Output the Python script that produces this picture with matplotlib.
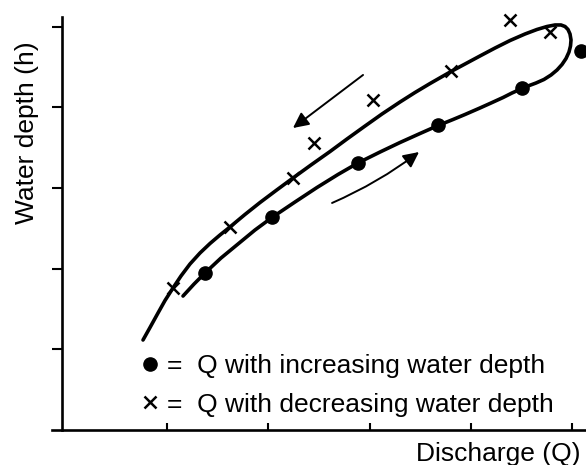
import matplotlib
matplotlib.use("Agg")
import matplotlib.pyplot as plt
from matplotlib.lines import Line2D

plt.rcParams['font.family'] = ['Liberation Sans', 'DejaVu Sans']

# hysteresis loop (discharge Q, water depth h)
# starts at the low end of the falling branch, goes round the top and back down the rising one
loop_q = [0.763, 0.832, 0.911, 0.980, 1.059, 1.138, 1.227, 1.326, 1.425, 1.523,
          1.622, 1.770, 1.919, 2.077, 2.244, 2.422, 2.610, 2.778, 2.956, 3.123,
          3.301, 3.449, 3.598, 3.805, 3.943, 4.091, 4.240, 4.388, 4.536, 4.654,
          4.753, 4.832, 4.891, 4.931, 4.960, 4.980, 4.990, 4.985, 4.970, 4.941,
          4.901, 4.852, 4.793, 4.723, 4.644, 4.565, 4.506, 4.407, 4.319, 4.190,
          4.091, 3.943, 3.825, 3.677, 3.499, 3.301, 3.104, 2.886, 2.689, 2.481,
          2.264, 2.037, 1.869, 1.701, 1.533, 1.375, 1.267, 1.158]
loop_h = [1.112, 1.267, 1.447, 1.602, 1.758, 1.907, 2.056, 2.193, 2.311, 2.416,
          2.516, 2.671, 2.820, 2.969, 3.124, 3.286, 3.453, 3.609, 3.770, 3.919,
          4.068, 4.186, 4.298, 4.447, 4.540, 4.640, 4.739, 4.832, 4.913, 4.969,
          5.006, 5.025, 5.025, 5.006, 4.969, 4.913, 4.839, 4.764, 4.689, 4.609,
          4.534, 4.466, 4.404, 4.348, 4.304, 4.267, 4.236, 4.180, 4.124, 4.050,
          3.994, 3.913, 3.851, 3.776, 3.677, 3.565, 3.447, 3.311, 3.168, 3.006,
          2.826, 2.634, 2.478, 2.304, 2.130, 1.944, 1.807, 1.658]

# measurements with increasing water depth (dots)
rise_q = [1.375, 2.037, 2.886, 3.677, 4.506, 5.089]
rise_h = [1.944, 2.640, 3.311, 3.783, 4.242, 4.702]

# measurements with decreasing water depth (crosses)
fall_q = [1.059, 1.622, 2.244, 2.452, 3.035, 3.805, 4.388, 4.783]
fall_h = [1.758, 2.516, 3.124, 3.559, 4.093, 4.453, 5.087, 4.938]

ticks = [1, 2, 3, 4, 5]

# direction arrows (tail, head)
arrow_fall = ((2.936, 4.404), (2.244, 3.745))
arrow_rise = ((2.630, 2.814), (3.489, 3.447))

fig = plt.figure(figsize=(5.86, 4.65), dpi=100)
ax = fig.add_axes([52 / 586, 35 / 465, 534 / 586, 413 / 465])

ax.plot(loop_q, loop_h, color='black', lw=2.6, solid_joinstyle='round',
        solid_capstyle='round', zorder=2)
ax.plot(rise_q, rise_h, 'o', color='black', ms=9.5, clip_on=False, zorder=3)
ax.plot(fall_q, fall_h, 'x', color='black', ms=8.5, mew=1.8, clip_on=False, zorder=3)

for (tail, head), rad in ((arrow_fall, 0.0), (arrow_rise, 0.06)):
    ax.annotate('', xy=head, xytext=tail,
                arrowprops=dict(arrowstyle='-|>,head_length=0.47,head_width=0.23',
                                mutation_scale=20, lw=1.4, color='black',
                                shrinkA=0, shrinkB=0,
                                connectionstyle='arc3,rad=%s' % rad))

ax.set_xlim(-0.1358, 5.138)
ax.set_ylim(-0.006, 5.124)
ax.spines[['top', 'right']].set_visible(False)
ax.spines['left'].set_position(('data', -0.037))
for s in ('left', 'bottom'):
    ax.spines[s].set_linewidth(1.9)
ax.set_xticks(ticks)
ax.set_yticks(ticks)
ax.tick_params(axis='x', direction='in', length=5, width=1.5, labelbottom=False)
ax.tick_params(axis='y', direction='out', length=7, width=1.5, labelleft=False)

fig.text(27 / 586, 1 - 133 / 465, 'Water depth (h)', rotation=90,
         ha='center', va='center', fontsize=19)
fig.text(580 / 586, 1 - 461 / 465, 'Discharge (Q)', ha='right', va='baseline',
         fontsize=19)

handles = [Line2D([], [], marker='o', ls='none', color='black', ms=9.5),
           Line2D([], [], marker='x', ls='none', color='black', ms=8, mew=1.8)]
labels = ['=  Q with increasing water depth', '=  Q with decreasing water depth']
ax.legend(handles, labels, loc='upper left', bbox_to_anchor=(137 / 586, 1 - 354 / 465),
          bbox_transform=fig.transFigure, frameon=False, fontsize=19,
          handlelength=1.0, handletextpad=0.14, labelspacing=0.55,
          borderpad=0, borderaxespad=0)

fig.savefig('out.png', dpi=100)
